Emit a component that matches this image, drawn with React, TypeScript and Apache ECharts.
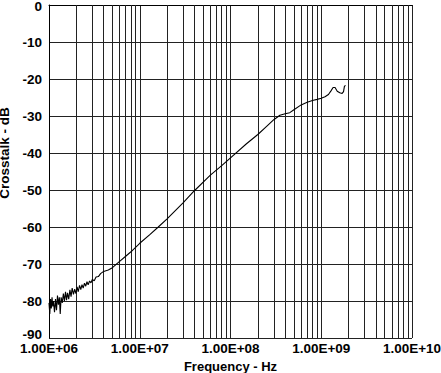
import React, { useEffect, useRef } from "react";
import * as echarts from "echarts";

// Frequency (Hz) and crosstalk (dB)
const freqHz: number[] = [
  1.0e6, 1.02e6, 1.04e6, 1.06e6, 1.08e6, 1.1e6, 1.12e6, 1.15e6, 1.18e6, 1.21e6,
  1.24e6, 1.27e6, 1.3e6, 1.33e6, 1.36e6, 1.4e6, 1.44e6, 1.48e6, 1.52e6, 1.56e6,
  1.6e6, 1.65e6, 1.7e6, 1.75e6, 1.8e6, 1.86e6, 1.92e6, 1.98e6, 2.04e6, 2.1e6,
  2.17e6, 2.24e6, 2.31e6, 2.38e6, 2.46e6, 2.54e6, 2.62e6, 2.7e6, 2.8e6, 2.9e6,
  3.0e6, 3.15e6, 3.3e6, 3.5e6, 3.7e6, 4.0e6, 4.5e6, 5.0e6, 6.0e6, 7.0e6,
  8.0e6, 9.0e6, 1.0e7, 1.3e7, 1.6e7, 2.0e7, 3.0e7, 4.0e7, 6.0e7, 8.0e7,
  1.0e8, 1.5e8, 2.0e8, 2.5e8, 3.0e8, 3.5e8, 4.0e8, 4.5e8, 5.0e8, 6.0e8,
  7.0e8, 8.0e8, 9.0e8, 1.0e9, 1.1e9, 1.2e9, 1.28e9, 1.35e9, 1.42e9, 1.5e9,
  1.6e9, 1.7e9, 1.76e9, 1.8e9, 1.85e9,
];
const crosstalkDb: number[] = [
  -80.5, -83.5, -79.5, -82, -79, -81.5, -80, -83, -79.5, -82.5,
  -78.5, -81, -79, -83.5, -79, -80.5, -78, -80, -77.5, -79.8,
  -77.8, -79.5, -77, -78.8, -76.5, -78.2, -76.8, -78, -76.2, -77.5,
  -75.8, -76.9, -75.6, -76.5, -75.2, -76, -74.8, -75.6, -74.6, -75.1,
  -74.2, -74.5, -73.5, -73.4, -72.6, -72.0, -71.6, -71.0, -69.3, -67.9,
  -66.7, -65.5, -64.4, -62, -60, -57.8, -53.5, -50.2, -46, -43.4,
  -41.3, -37.5, -35, -32.8, -31, -29.8, -29.4, -29.1, -28.3, -27,
  -26.3, -25.8, -25.5, -25.2, -24.8, -24.2, -23.2, -22.3, -22.3, -23.3,
  -23.7, -23.9, -23.4, -22, -21.7,
];

// Minor log grid lines (2..9 within each decade)
const minorGridHz: number[] = [
  2e6, 3e6, 4e6, 5e6, 6e6, 7e6, 8e6, 9e6,
  2e7, 3e7, 4e7, 5e7, 6e7, 7e7, 8e7, 9e7,
  2e8, 3e8, 4e8, 5e8, 6e8, 7e8, 8e8, 9e8,
  2e9, 3e9, 4e9, 5e9, 6e9, 7e9, 8e9, 9e9,
];

const FONT = "'Liberation Sans', Arial, sans-serif";

function fmtExp(v: number): string {
  const e = Math.round(Math.log10(v));
  const m = v / Math.pow(10, e);
  return m.toFixed(2) + "E+" + (e < 10 ? "0" + e : String(e));
}

export default function App() {
  const ref = useRef<HTMLDivElement>(null);
  useEffect(() => {
    if (!ref.current) return;
    const chart = echarts.init(ref.current, undefined, { renderer: "svg" });
    const gridColor = "#222";
    const labelStyle = {
      fontFamily: FONT,
      fontWeight: "bold",
      fontSize: 13.5,
      color: "#000",
    };
    chart.setOption({
      animation: false,
      backgroundColor: "#fff",
      grid: {
        left: 49,
        right: 29,
        top: 5,
        bottom: 35,
        containLabel: false,
        outerBoundsMode: "none",
      },
      xAxis: {
        type: "log",
        logBase: 10,
        min: 1e6,
        max: 1e10,
        name: "Frequency - Hz",
        nameLocation: "middle",
        nameGap: 16,
        nameTextStyle: { fontFamily: FONT, fontWeight: "bold", fontSize: 13, color: "#000" },
        axisLine: { show: true, lineStyle: { color: "#000", width: 1 } },
        axisTick: { show: false },
        axisLabel: {
          formatter: (v: number) => fmtExp(v),
          ...labelStyle,
          margin: 3,
          showMaxLabel: true,
          showMinLabel: true,
        },
        splitLine: { show: true, lineStyle: { color: gridColor, width: 1 } },
      },
      yAxis: {
        type: "value",
        min: -90,
        max: 0,
        interval: 10,
        name: "Crosstalk - dB",
        nameLocation: "middle",
        nameGap: 30,
        nameTextStyle: {
          fontFamily: FONT,
          fontWeight: "bold",
          fontSize: 13.5,
          color: "#000",
          padding: [0, 0, 0, 37],
        },
        axisLine: { show: true, lineStyle: { color: "#000", width: 1 } },
        axisTick: { show: false },
        axisLabel: {
          formatter: (v: number) =>
            v === -90 ? "{low|" + v + "}" : v === 0 ? "{top|" + v + "}" : String(v),
          rich: {
            low: { ...labelStyle, padding: [0, 0, 8, 0] },
            top: { ...labelStyle, padding: [2, 0, 0, 0] },
          },
          ...labelStyle,
          margin: 7,
        },
        splitLine: { show: true, lineStyle: { color: gridColor, width: 1 } },
      },
      series: [
        {
          type: "line",
          data: freqHz.map((f, i) => [f, crosstalkDb[i]]),
          showSymbol: false,
          symbol: "none",
          lineStyle: { color: "#000", width: 1.1 },
          z: 5,
          markLine: {
            silent: true,
            symbol: ["none", "none"],
            label: { show: false },
            lineStyle: { color: gridColor, width: 1, type: "solid" },
            data: minorGridHz.map((f) => ({ xAxis: f })),
            z: 1,
          },
        },
      ],
    });
    return () => chart.dispose();
  }, []);
  return <div ref={ref} style={{ width: 441, height: 373, position: "absolute", left: 0, top: 0 }} />;
}
